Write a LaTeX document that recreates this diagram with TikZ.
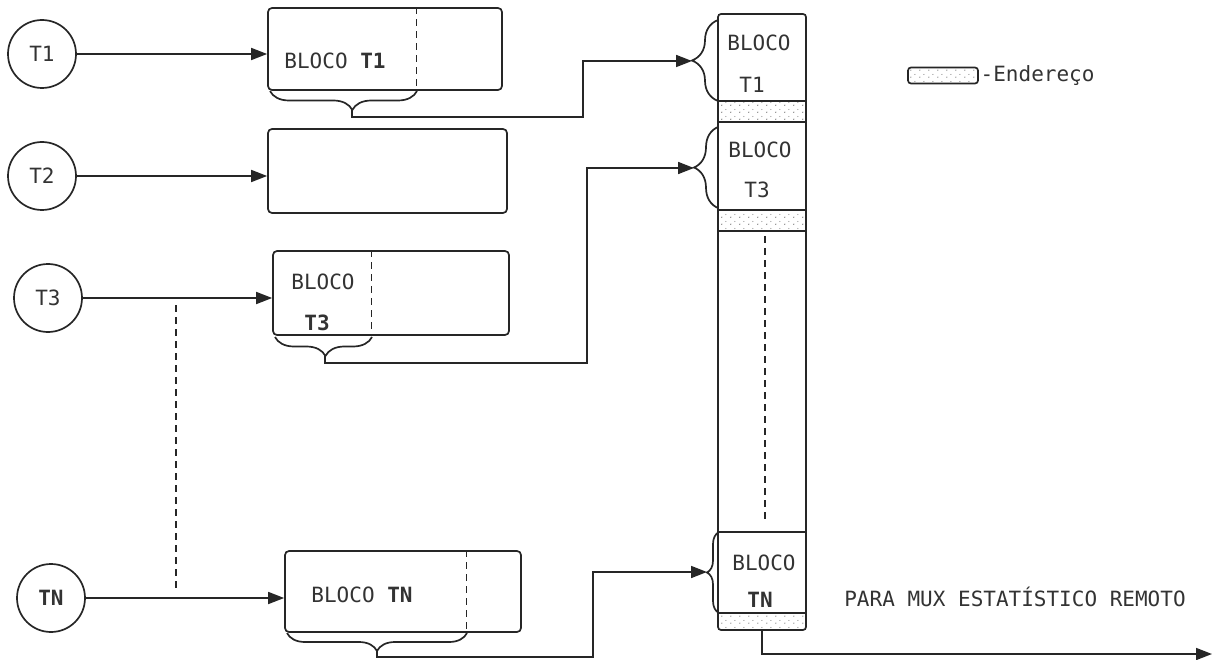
\documentclass[tikz,border=0pt]{standalone}
\usepackage{fontspec}
\setmonofont{DejaVu Sans Mono}
\usetikzlibrary{arrows.meta,decorations.pathreplacing,patterns,positioning}

\pgfdeclarepatternformonly{stipple}{\pgfpointorigin}{\pgfpoint{9pt}{7pt}}{\pgfpoint{9pt}{7pt}}{%
  \pgfpathcircle{\pgfpoint{2pt}{2pt}}{0.7pt}
  \pgfpathcircle{\pgfpoint{6.5pt}{5pt}}{0.6pt}
  \pgfusepath{fill}}

\begin{document}
\begin{tikzpicture}[x=1pt,y=-1pt,line width=1.7pt,black!85,
    every node/.style={font=\ttfamily\fontsize{21}{24}\selectfont,text=black!80},
    term/.style={draw,circle,minimum size=68pt,inner sep=0pt},
    blk/.style={draw,rounded corners=4pt,inner sep=0pt},
    addr/.style={pattern=stipple,pattern color=black!55},
    sep/.style={dash pattern=on 7pt off 5pt,line width=1.2pt},
    arr/.style={-{Triangle[length=16pt,width=12pt]}},
    brc/.style={decorate,decoration={brace,amplitude=#1}}]
  \useasboundingbox (0,0) rectangle (1217,660);

  % terminais
  \node[term] (t1) at (42,54) {T1};
  \node[term] (t2) at (42,176) {T2};
  \node[term] (t3) at (48,298) {T3};
  \node[term] (tn) at (51,598) {\textbf{TN}};

  % buffers
  \node[blk,minimum width=234pt,minimum height=82pt] (b1) at (385,49) {};
  \node[blk,minimum width=239pt,minimum height=84pt] (b2) at (387.5,171) {};
  \node[blk,minimum width=236pt,minimum height=84pt] (b3) at (391,293) {};
  \node[blk,minimum width=236pt,minimum height=81pt] (bn) at (403,591.5) {};

  \node (l1) at (335,61) {BLOCO \textbf{T1}};
  \node (l3a) at (323,282) {BLOCO};
  \node (l3b) at (317,323) {\textbf{T3}};
  \node (ln) at (362,595) {BLOCO \textbf{TN}};

  \draw[sep] ([xshift=149pt]b1.north west) -- ([xshift=149pt]b1.south west);
  \draw[sep] ([xshift=99pt]b3.north west) -- ([xshift=99pt]b3.south west);
  \draw[sep] ([xshift=182pt]bn.north west) -- ([xshift=182pt]bn.south west);

  \draw[arr] (t1) -- (t1 -| b1.west);
  \draw[arr] (t2) -- (t2 -| b2.west);
  \draw[arr] (t3) -- (t3 -| b3.west);
  \draw[arr] (tn) -- (tn -| bn.west);
  \draw[sep] (176,305) -- (176,590);

  % chaves dos blocos
  \draw[brc=19pt,decoration={aspect=0.44}] (417,91) -- (270,91);
  \draw[brc=19pt,decoration={aspect=0.48}] (372,337) -- (275,337);
  \draw[brc=18pt] (467,633) -- (287,633);
  \coordinate (k1) at (352,110);
  \coordinate (k3) at (325,356);
  \coordinate (kn) at (377,651);

  % quadro multiplexado
  \path[addr] (718,101) rectangle (806,122);
  \path[addr] (718,210) rectangle (806,231);
  \path[addr] (719,613) rectangle (805,629);
  \node[blk,rounded corners=3pt,minimum width=88pt,minimum height=616pt] (col) at (762,322) {};
  \foreach \h in {101,122,210,231,532,613}
    \draw (718,\h) -- (806,\h);
  \draw[sep] (765,236) -- (765,522);

  \node (c1a) at (759,43) {BLOCO};
  \node (c1b) at (752,85) {T1};
  \node (c3a) at (760,150) {BLOCO};
  \node (c3b) at (757,190) {T3};
  \node (cna) at (764,563) {BLOCO};
  \node (cnb) at (760,600) {\textbf{TN}};

  \draw[brc=26pt] (718,101) -- (718,20);
  \draw[brc=24pt] (718,208) -- (718,127);
  \draw[brc=12pt] (719,613) -- (719,532);
  \coordinate (c1) at (692,61);
  \coordinate (c3) at (694,168);
  \coordinate (cn) at (707,572);
  \coordinate (j1) at (583,61);
  \coordinate (j3) at (587,168);
  \coordinate (jn) at (593,572);

  \draw[arr] (k1) -- ++(0,7) -| (j1) -- (c1);
  \draw[arr] (k3) -- ++(0,7) -| (j3) -- (c3);
  \draw[arr] (kn) -- ++(0,6) -| (jn) -- (cn);

  % saida
  \coordinate (out) at (1212,654);
  \draw[arr] (col.south) |- (out);
  \node (dest) at (1015,597) {PARA MUX ESTATÍSTICO REMOTO};

  % legenda
  \node[blk,addr,rounded corners=3pt,minimum width=70pt,minimum height=16pt] (leg) at (943,75.5) {};
  \node[right=0pt of leg,inner sep=1pt] (legtxt) {-Endereço};
\end{tikzpicture}
\end{document}
